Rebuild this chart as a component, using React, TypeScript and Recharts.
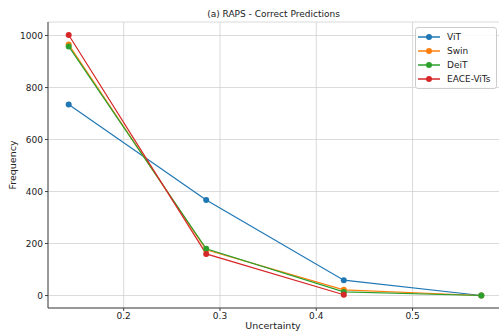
import React from "react";
import {
  LineChart, Line, XAxis, YAxis, CartesianGrid,
} from "recharts";

const uncertainty = [0.1429, 0.2857, 0.4286, 0.5714];
const vit = [735, 367, 59, 0];
const swin = [965, 176, 22, 0];
const deit = [958, 180, 14, 0];
const eace = [1002, 160, 3, null];

const xTicks = [0.2, 0.3, 0.4, 0.5];
const yTicks = [0, 200, 400, 600, 800, 1000];

const series = [
  { key: "vit", name: "ViT", color: "#1f77b4" },
  { key: "swin", name: "Swin", color: "#ff7f0e" },
  { key: "deit", name: "DeiT", color: "#2ca02c" },
  { key: "eace", name: "EACE-ViTs", color: "#d62728" },
];

const data = uncertainty.map((x, i) => ({
  x,
  vit: vit[i],
  swin: swin[i],
  deit: deit[i],
  eace: eace[i],
}));

const font = "'DejaVu Sans', sans-serif";

function LegendBox() {
  return (
    <div
      style={{
        position: "absolute", top: 27, left: 415, width: 82, boxSizing: "border-box",
        border: "1px solid #ccc",
        borderRadius: 3,
        background: "rgba(255,255,255,0.85)",
        padding: "2px 2px 2px 2px",
        fontFamily: font,
        fontSize: 9,
        color: "#222",
      }}
    >
      {series.map((s) => (
        <div key={s.key} style={{ display: "flex", alignItems: "center", height: 14, whiteSpace: "nowrap" }}>
          <svg width={22} height={8} style={{ marginRight: 7 }}>
            <line x1={0} y1={4} x2={22} y2={4} stroke={s.color} strokeWidth={1.5} />
            <circle cx={11} cy={4} r={3} fill={s.color} />
          </svg>
          {s.name}
        </div>
      ))}
    </div>
  );
}

export default function App() {
  return (
    <div style={{ position: "relative", width: 499, height: 332, background: "#fff", overflow: "hidden" }}>
      <style>{"body{margin:0}"}</style>
      <div
        style={{
          position: "absolute", top: 8, left: 48, width: 451, textAlign: "center",
          fontFamily: font, fontSize: 9, color: "#222", lineHeight: "12px",
        }}
      >
        (a) RAPS - Correct Predictions
      </div>
      <LineChart
        width={502}
        height={332}
        data={data}
        margin={{ top: 22, right: 0, bottom: 0, left: 0 }}
        style={{ position: "absolute", top: 0, left: 0 }}
      >
        <CartesianGrid stroke="#d0d0d0" strokeWidth={0.8} />
        <XAxis
          dataKey="x"
          type="number"
          domain={[0.1214, 0.5929]}
          ticks={xTicks}
          allowDataOverflow
          height={24}
          tickSize={3}
          tickLine={{ stroke: "#444" }}
          axisLine={{ stroke: "#444" }}
          tick={{ fontFamily: font, fontSize: 9, fill: "#222" }}
          tickFormatter={(v: number) => v.toFixed(1)}
          label={() => (
            <text x={273} y={329} textAnchor="middle"
              fontFamily={font} fontSize={9.5} fill="#222">
              Uncertainty
            </text>
          )}
        />
        <YAxis
          type="number"
          domain={[-48, 1052]}
          ticks={yTicks}
          allowDataOverflow
          width={48}
          tickSize={3}
          tickLine={{ stroke: "#444" }}
          axisLine={{ stroke: "#444" }}
          tick={{ fontFamily: font, fontSize: 9, fill: "#222" }}
          label={(props: any) => {
            const vb = props.viewBox;
            const cy = vb.y + vb.height / 2;
            return (
              <text x={16} y={cy} textAnchor="middle" transform={`rotate(-90, 16, ${cy})`}
                fontFamily={font} fontSize={9.5} fill="#222">
                Frequency
              </text>
            );
          }}
        />
        {series.map((s) => (
          <Line
            key={s.key}
            dataKey={s.key}
            name={s.name}
            stroke={s.color}
            strokeWidth={1.2}
            dot={{ r: 3, fill: s.color, stroke: s.color, strokeWidth: 0 }}
            activeDot={false}
            isAnimationActive={false}
          />
        ))}
      </LineChart>
      <LegendBox />
    </div>
  );
}
